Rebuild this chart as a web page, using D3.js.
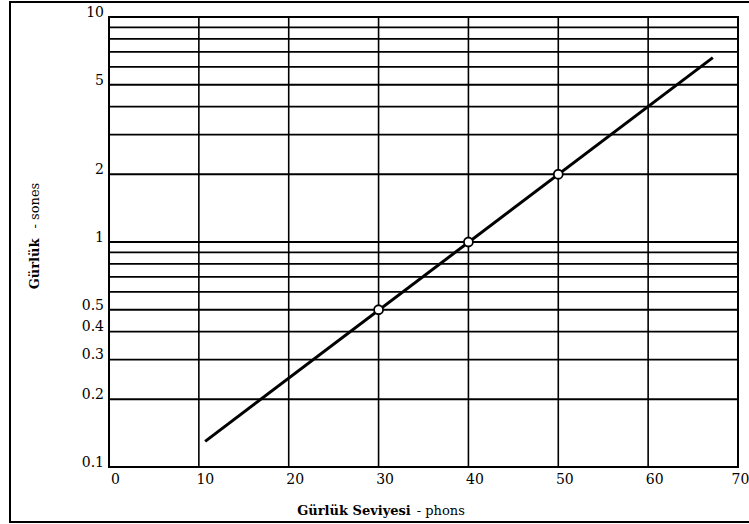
<!DOCTYPE html>
<html>
<head>
  <meta charset="utf-8">
  <title>Gürlük</title>
  <style>
    body {margin:0; background:#fff;}
    svg text {font-family: "DejaVu Serif", "Liberation Serif", serif; fill:#000;}
    .axis path, .axis line {display:none;}
    .grid line {stroke:#000;}
  </style>
</head>
<body>
<script src="https://cdn.jsdelivr.net/npm/d3@7/dist/d3.min.js"></script>
<script>
  // values
  var xTicks = [0, 10, 20, 30, 40, 50, 60, 70];
  var yLabels = [0.1, 0.2, 0.3, 0.4, 0.5, 1, 2, 5, 10];
  var yGrid = [0.2, 0.3, 0.4, 0.5, 0.6, 0.7, 0.8, 0.9, 1, 2, 3, 4, 5, 6, 7, 8, 9];
  var curve = [{phon: 10.7, sone: 0.13}, {phon: 67.2, sone: 6.6}];
  var marks = [{phon: 30, sone: 0.5}, {phon: 40, sone: 1}, {phon: 50, sone: 2}];

  var width = 749, height = 524,
      pLeft = 109, pRight = 738,
      pTop = 17, pBottom = 467;

  var svg = d3.select('body').append('svg')
    .attr('width', width)
    .attr('height', height);

  // outer frame, right side runs off the page
  svg.append('rect')
    .attr('x', 10).attr('y', 2)
    .attr('width', 760).attr('height', 520)
    .attr('fill', 'none')
    .attr('stroke', '#000')
    .attr('stroke-width', 2);

  var x = d3.scaleLinear().domain([0, 70]).range([pLeft, pRight]);
  var y = d3.scaleLog().domain([0.1, 10]).range([pBottom, pTop]);

  var grid = svg.append('g').attr('class', 'grid');

  grid.selectAll('line.v')
    .data(xTicks.slice(1, -1))
    .enter().append('line')
    .attr('class', 'v')
    .attr('x1', function(d){ return x(d) })
    .attr('x2', function(d){ return x(d) })
    .attr('y1', pTop).attr('y2', pBottom)
    .attr('stroke-width', 1.6);

  grid.selectAll('line.h')
    .data(yGrid)
    .enter().append('line')
    .attr('class', 'h')
    .attr('x1', pLeft).attr('x2', pRight)
    .attr('y1', function(d){ return y(d) })
    .attr('y2', function(d){ return y(d) })
    .attr('stroke-width', 1.8);

  svg.append('rect')
    .attr('x', pLeft).attr('y', pTop)
    .attr('width', pRight - pLeft).attr('height', pBottom - pTop)
    .attr('fill', 'none')
    .attr('stroke', '#000')
    .attr('stroke-width', 2);

  var xAxis = svg.append('g')
    .attr('class', 'axis')
    .attr('transform', 'translate(0,' + pBottom + ')')
    .call(d3.axisBottom(x).tickValues(xTicks).tickSize(0).tickPadding(0));

  xAxis.selectAll('text')
    .attr('y', 17)
    .attr('dy', null)
    .attr('dx', function(d){ return d == 70 ? 2 : 6 })
    .style('font-size', '14px');

  var yAxis = svg.append('g')
    .attr('class', 'axis')
    .attr('transform', 'translate(' + pLeft + ',0)')
    .call(d3.axisLeft(y).tickValues(yLabels).tickFormat(d3.format('')).tickSize(0).tickPadding(0));

  yAxis.selectAll('text')
    .attr('x', -5)
    .attr('dy', '-0.05em')
    .style('font-size', '14px');

  svg.append('line')
    .datum(curve)
    .attr('x1', function(d){ return x(d[0].phon) })
    .attr('y1', function(d){ return y(d[0].sone) })
    .attr('x2', function(d){ return x(d[1].phon) })
    .attr('y2', function(d){ return y(d[1].sone) })
    .attr('stroke', '#000')
    .attr('stroke-width', 3);

  svg.selectAll('circle')
    .data(marks)
    .enter().append('circle')
    .attr('cx', function(d){ return x(d.phon) })
    .attr('cy', function(d){ return y(d.sone) })
    .attr('r', 4.5)
    .attr('fill', '#fff')
    .attr('stroke', '#000')
    .attr('stroke-width', 1.8);

  var xt = svg.append('text')
    .attr('x', 381).attr('y', 515)
    .attr('text-anchor', 'middle')
    .style('font-size', '13px');
  xt.append('tspan').style('font-weight', 'bold').text('Gürlük Seviyesi');
  xt.append('tspan').attr('dx', 6).text('- phons');

  var yt = svg.append('text')
    .attr('transform', 'translate(39,236) rotate(-90)')
    .attr('text-anchor', 'middle')
    .style('font-size', '13px');
  yt.append('tspan').style('font-weight', 'bold').text('Gürlük');
  yt.append('tspan').attr('dx', 10).text('- sones');
</script>
</body>
</html>
